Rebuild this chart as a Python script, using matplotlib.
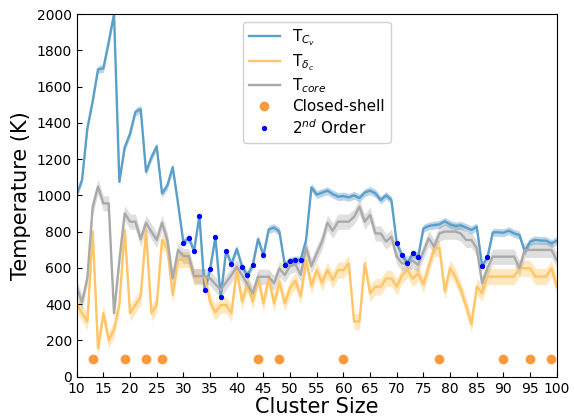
import numpy as np
import matplotlib
matplotlib.use("Agg")
import matplotlib.pyplot as plt

sizes = list(range(10, 101))

t_cv = [1005, 1085, 1370, 1520, 1695, 1700, 1845, 2000, 1075, 1265,
        1340, 1460, 1475, 1130, 1210, 1270, 1010, 1055, 1155, 955,
        739, 765, 693, 888, 476, 592, 769, 438, 693, 621,
        705, 607, 559, 616, 759, 669, 812, 822, 800, 618,
        638, 644, 644, 754, 1044, 1004, 1015, 1026, 1007, 993,
        996, 989, 1000, 985, 1015, 1026, 1011, 974, 1000, 974,
        735, 669, 625, 680, 660, 818, 831, 836, 840, 857,
        840, 831, 835, 822, 809, 827, 610, 658, 796, 796,
        794, 805, 790, 781, 690, 745, 754, 751, 750, 735,
        750]

t_dc = [401, 350, 303, 800, 156, 350, 202, 260, 400, 809,
        350, 396, 441, 809, 350, 396, 754, 708, 450, 645,
        645, 645, 550, 550, 550, 414, 355, 395, 395, 350,
        588, 414, 515, 414, 543, 404, 543, 404, 524, 404,
        490, 530, 445, 643, 500, 588, 518, 588, 533, 588,
        588, 625, 304, 304, 625, 459, 496, 496, 542, 542,
        496, 560, 588, 540, 570, 510, 610, 705, 710, 470,
        600, 550, 480, 390, 290, 497, 460, 552, 552, 552,
        552, 552, 552, 598, 598, 598, 552, 552, 552, 598,
        497]

t_core = [495, 410, 545, 937, 1048, 956, 956, 350, 643, 901,
          855, 855, 758, 849, 800, 754, 849, 754, 542, 700,
          665, 665, 555, 555, 555, 543, 510, 478, 520, 560,
          607, 560, 510, 460, 551, 551, 551, 515, 597, 561,
          610, 620, 561, 713, 610, 680, 745, 849, 805, 855,
          855, 855, 882, 937, 855, 892, 790, 790, 745, 772,
          662, 625, 625, 640, 616, 690, 763, 717, 790, 800,
          800, 800, 790, 754, 754, 708, 515, 598, 662, 662,
          662, 662, 662, 598, 699, 699, 699, 699, 699, 699,
          643]

closed_shell = [13, 19, 23, 26, 44, 48, 60, 78, 90, 95, 99]
closed_level = 100
second_order = [30, 31, 32, 33, 34, 35, 36, 37, 38, 39, 41, 42, 43, 45,
                49, 50, 51, 52, 70, 71, 72, 73, 74, 86, 87]

x = np.array(sizes)
cv = np.array(t_cv, float)
dc = np.array(t_dc, float)
core = np.array(t_core, float)

fig = plt.figure(figsize=(5.74, 4.18), dpi=100)
ax = fig.add_axes([0.1336, 0.0988, 0.8364, 0.8677])

c_cv = '#5b9fc9'
c_dc = '#ffc566'
c_core = '#a9a9a9'

ax.fill_between(x, cv - 22, cv + 22, color='#1f77b4', alpha=0.3, lw=0)
ax.plot(x, cv, color=c_cv, lw=1.7, label=r'T$_{C_v}$')
ax.fill_between(x, dc - 45, dc + 45, color='orange', alpha=0.25, lw=0)
ax.plot(x, dc, color=c_dc, lw=1.7, label=r'T$_{\delta_c}$')
ax.fill_between(x, core - 42, core + 42, color='gray', alpha=0.25, lw=0)
ax.plot(x, core, color=c_core, lw=1.7, label=r'T$_{core}$')

ax.plot(closed_shell, [closed_level] * len(closed_shell), 'o', color='#ff9a3c',
        ms=6, ls='none', label='Closed-shell')
so_vals = [t_cv[s - 10] for s in second_order]
ax.plot(second_order, so_vals, 'o', color='blue', ms=2.8, ls='none', label=r'2$^{nd}$ Order')

ax.set_xlim(10, 100)
ax.set_ylim(0, 2000)
ax.set_xticks(range(10, 101, 5))
ax.set_yticks(range(0, 2001, 200))
ax.tick_params(direction='in', labelsize=10)
ax.set_xlabel('Cluster Size', fontsize=15, labelpad=1)
ax.set_ylabel('Temperature (K)', fontsize=15)

ax.legend(loc='upper center', fontsize=11, bbox_to_anchor=(0.50, 1.0),
          framealpha=0.9, labelspacing=0.25)

fig.savefig('out.png', dpi=100)
